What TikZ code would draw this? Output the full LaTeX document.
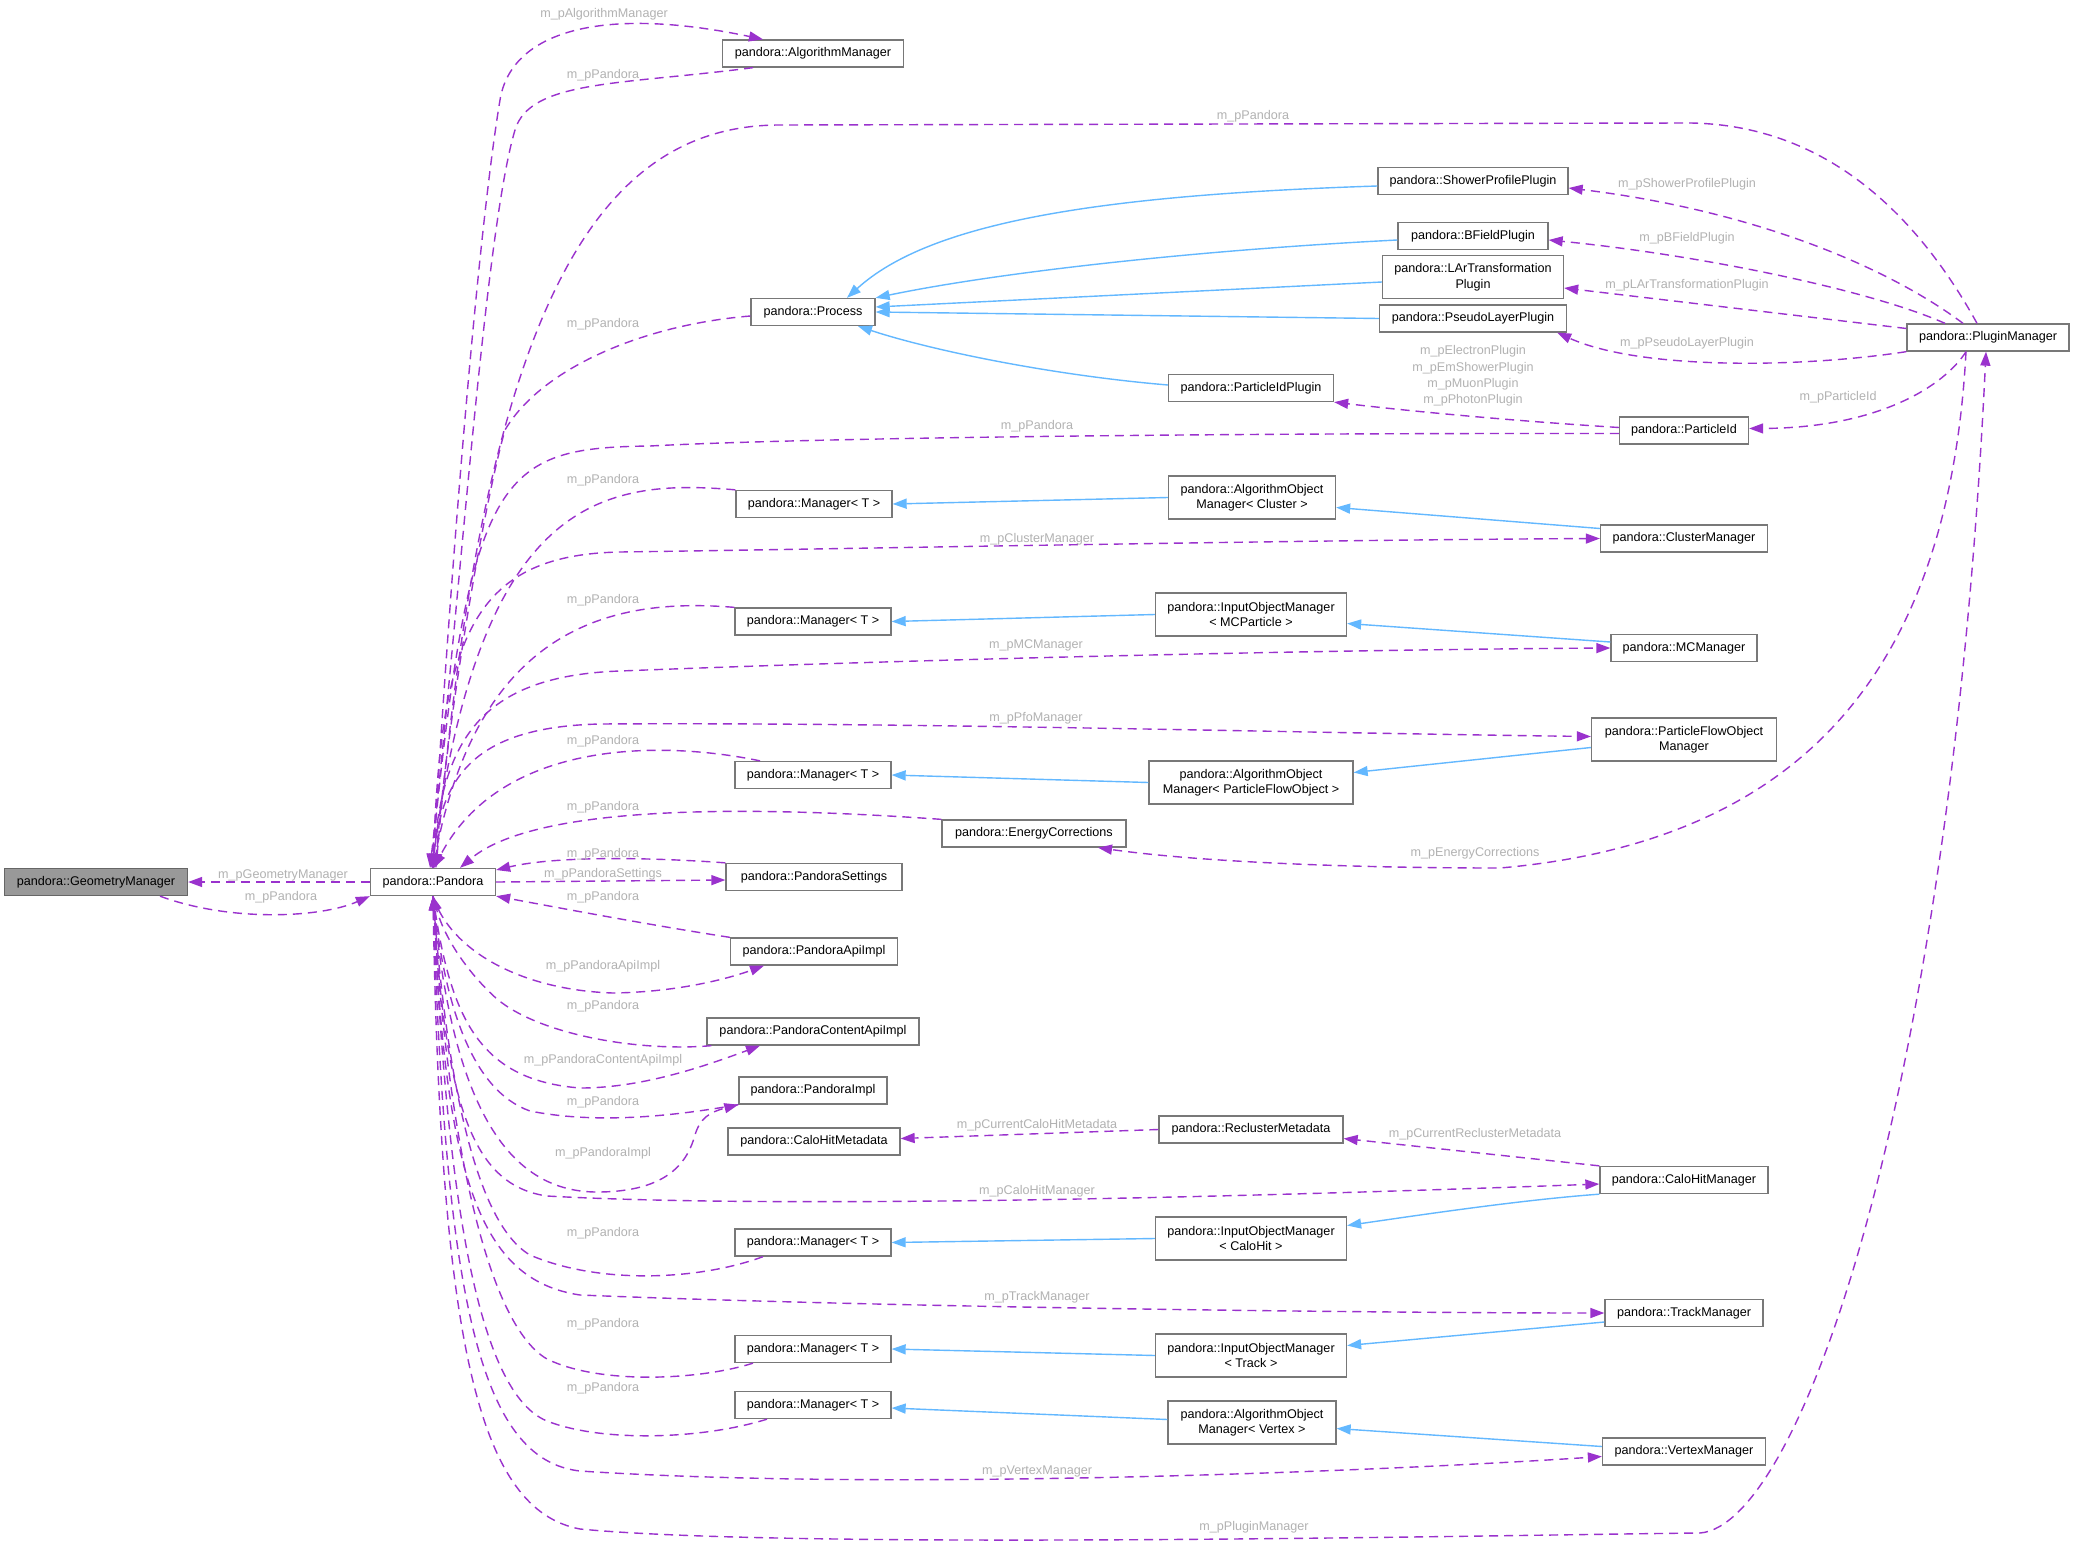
\documentclass[tikz,border=0pt]{standalone}
\usepackage{fontspec}
\setmainfont{Liberation Sans}
\usetikzlibrary{positioning,arrows.meta}

\definecolor{depcol}{RGB}{154,50,205}
\definecolor{inhcol}{RGB}{99,184,255}
\definecolor{boxcol}{RGB}{120,120,120}
\definecolor{lblcol}{RGB}{178,178,178}
\definecolor{focuscol}{RGB}{153,153,153}
\definecolor{focusedge}{RGB}{102,102,102}
\newcommand{\dgfont}{\fontsize{12.6}{15.5}\selectfont}

\tikzset{
  cls/.style={rectangle,draw=boxcol,fill=white,line width=1.3pt,font=\dgfont,
    align=center,minimum height=27pt,inner xsep=3pt,inner ysep=2pt},
  focus/.style={cls,fill=focuscol,draw=focusedge},
  dep/.style={draw=depcol,line width=1.4pt,dash pattern=on 9pt off 6pt,
    -{Triangle[length=14pt,width=10pt]}},
  inh/.style={draw=inhcol,line width=1.4pt,-{Triangle[length=14pt,width=10pt]}},
  lbl/.style={font=\dgfont,text=lblcol,inner sep=0pt,align=center}
}

\begin{document}
\begin{tikzpicture}[x=1pt,y=-1pt]
  \useasboundingbox[fill=white] (0,0) rectangle (2074,1549);

  % classes
  \node[focus,minimum width=183] (geom) at (96,882) {pandora::GeometryManager};
  \node[cls,minimum width=125] (pandora) at (433,882) {pandora::Pandora};
  \node[cls,minimum width=181] (algmgr) at (813,53.5) {pandora::AlgorithmManager};
  \node[cls,minimum width=124] (process) at (813,312) {pandora::Process};
  \node[cls,minimum width=190] (showerpp) at (1473,181) {pandora::ShowerProfilePlugin};
  \node[cls,minimum width=150] (bfieldp) at (1473,236) {pandora::BFieldPlugin};
  \node[cls,minimum width=181,minimum height=43] (lartp) at (1473,277) {pandora::LArTransformation\\Plugin};
  \node[cls,minimum width=187] (pseudolp) at (1473,318.5) {pandora::PseudoLayerPlugin};
  \node[cls,minimum width=162] (pluginmgr) at (1988,337.5) {pandora::PluginManager};
  \node[cls,minimum width=129] (partid) at (1684,430.5) {pandora::ParticleId};
  \node[cls,minimum width=165] (partidp) at (1251,388) {pandora::ParticleIdPlugin};
  \node[cls,minimum width=156] (mgrclus) at (814,504) {pandora::Manager< T >};
  \node[cls,minimum width=167,minimum height=43] (aomclus) at (1252,497.5) {pandora::AlgorithmObject\\Manager< Cluster >};
  \node[cls,minimum width=167] (clusmgr) at (1684,538.5) {pandora::ClusterManager};
  \node[cls,minimum width=156] (mgrmc) at (813,621.5) {pandora::Manager< T >};
  \node[cls,minimum width=191,minimum height=43] (iommc) at (1251,614.5) {pandora::InputObjectManager\\< MCParticle >};
  \node[cls,minimum width=146] (mcmgr) at (1684,648) {pandora::MCManager};
  \node[cls,minimum width=185,minimum height=43] (pfomgr) at (1684,739.5) {pandora::ParticleFlowObject\\Manager};
  \node[cls,minimum width=156] (mgrpfo) at (813,775) {pandora::Manager< T >};
  \node[cls,minimum width=204,minimum height=43] (aompfo) at (1251,782.5) {pandora::AlgorithmObject\\Manager< ParticleFlowObject >};
  \node[cls,minimum width=184] (energycorr) at (1034,833.5) {pandora::EnergyCorrections};
  \node[cls,minimum width=176] (settings) at (814,877) {pandora::PandoraSettings};
  \node[cls,minimum width=167] (apiimpl) at (814,951.5) {pandora::PandoraApiImpl};
  \node[cls,minimum width=212] (contentapi) at (813,1031.5) {pandora::PandoraContentApiImpl};
  \node[cls,minimum width=148] (pimpl) at (813,1090.5) {pandora::PandoraImpl};
  \node[cls,minimum width=172] (calometa) at (814,1141.5) {pandora::CaloHitMetadata};
  \node[cls,minimum width=184] (reclusmeta) at (1251,1129.5) {pandora::ReclusterMetadata};
  \node[cls,minimum width=168] (calomgr) at (1684,1180) {pandora::CaloHitManager};
  \node[cls,minimum width=191,minimum height=43] (iomcalo) at (1251,1238.5) {pandora::InputObjectManager\\< CaloHit >};
  \node[cls,minimum width=156] (mgrcalo) at (813,1242.5) {pandora::Manager< T >};
  \node[cls,minimum width=158] (trackmgr) at (1684,1313) {pandora::TrackManager};
  \node[cls,minimum width=191,minimum height=43] (iomtrack) at (1251,1355.5) {pandora::InputObjectManager\\< Track >};
  \node[cls,minimum width=156] (mgrtrack) at (813,1349) {pandora::Manager< T >};
  \node[cls,minimum width=156] (mgrvtx) at (813,1405) {pandora::Manager< T >};
  \node[cls,minimum width=168,minimum height=43] (aomvtx) at (1252,1422.5) {pandora::AlgorithmObject\\Manager< Vertex >};
  \node[cls,minimum width=163] (vtxmgr) at (1684,1451.5) {pandora::VertexManager};

  % inheritance
  \draw[inh] ([yshift=-5pt]showerpp.west) .. controls (1100,195) and (930,222) .. ([xshift=34pt]process.north);
  \draw[inh] ([yshift=-4pt]bfieldp.west) .. controls (1200,250) and (1000,272) .. (process.north east);
  \draw[inh] ([yshift=-5pt]lartp.west) -- ([yshift=5pt]process.east);
  \draw[inh] (pseudolp.west) -- (process.east);
  \draw[inh] ([yshift=3pt]partidp.west) .. controls (1050,375) and (930,350) .. ([xshift=45pt]process.south);
  \draw[inh] (aomclus.west) -- (mgrclus.east);
  \draw[inh] ([yshift=10pt]clusmgr.west) -- ([yshift=-10pt]aomclus.east);
  \draw[inh] (iommc.west) -- (mgrmc.east);
  \draw[inh] ([yshift=6pt]mcmgr.west) -- ([yshift=-9pt]iommc.east);
  \draw[inh] (aompfo.west) -- (mgrpfo.east);
  \draw[inh] ([yshift=-8pt]pfomgr.west) -- ([yshift=10pt]aompfo.east);
  \draw[inh] (iomcalo.west) -- (mgrcalo.east);
  \draw[inh] (calomgr.south west) .. controls (1520,1200) and (1420,1215) .. ([yshift=13pt]iomcalo.east);
  \draw[inh] (iomtrack.west) -- (mgrtrack.east);
  \draw[inh] ([yshift=-9pt]trackmgr.west) -- ([yshift=10pt]iomtrack.east);
  \draw[inh] ([yshift=3pt]aomvtx.west) -- ([yshift=-3pt]mgrvtx.east);
  \draw[inh] ([yshift=5pt]vtxmgr.west) -- ([yshift=-6pt]aomvtx.east);

  % usage
  \draw[dep] (pandora.west) -- (geom.east) node[lbl] at (283,875) {m\_pGeometryManager};
  \draw[dep] ([xshift=64pt]geom.south) .. controls (230,922) and (320,918) .. (pandora.south west) node[lbl] at (281,897) {m\_pPandora};
  \draw[dep] (pandora.north) .. controls (445,650) and (475,250) .. (500,100) .. controls (511,32) and (600,5) .. ([xshift=-50pt]algmgr.north) node[lbl] at (604,14) {m\_pAlgorithmManager};
  \draw[dep] ([xshift=-60pt]algmgr.south) .. controls (620,85) and (530,80) .. (515,130) .. controls (485,230) and (460,600) .. ([xshift=-3pt]pandora.north) node[lbl] at (603,75) {m\_pPandora};
  \draw[dep] ([xshift=-11pt]pluginmgr.north) .. controls (1920,220) and (1830,125) .. (1690,123) -- (780,125) .. controls (600,125) and (485,300) .. ([xshift=3pt]pandora.north) node[lbl] at (1253,116) {m\_pPandora};
  \draw[dep] ([yshift=-4pt]process.west) .. controls (640,325) and (540,370) .. (505,430) .. controls (485,500) and (450,700) .. ([xshift=2pt]pandora.north) node[lbl] at (603,324) {m\_pPandora};
  \draw[dep] ([yshift=-3pt]partid.west) .. controls (1200,433) and (800,438) .. (650,446) .. controls (500,448) and (470,470) .. ([xshift=-2pt]pandora.north) node[lbl] at (1037,426) {m\_pPandora};
  \draw[dep] (mgrclus.north west) .. controls (600,478) and (480,500) .. ([xshift=-1pt]pandora.north) node[lbl] at (603,480) {m\_pPandora};
  \draw[dep] (pandora.north) .. controls (440,640) and (470,555) .. (620,552) .. controls (900,548) and (1300,540) .. (clusmgr.west) node[lbl] at (1037,539) {m\_pClusterManager};
  \draw[dep] (mgrmc.north west) .. controls (620,598) and (480,620) .. (pandora.north) node[lbl] at (603,600) {m\_pPandora};
  \draw[dep] (pandora.north) .. controls (440,740) and (480,676) .. (620,671) .. controls (900,660) and (1300,650) .. (mcmgr.west) node[lbl] at (1036,645) {m\_pMCManager};
  \draw[dep] (pandora.north) .. controls (438,780) and (470,727) .. (600,724) .. controls (900,722) and (1300,733) .. ([yshift=3pt]pfomgr.west) node[lbl] at (1036,718) {m\_pPfoManager};
  \draw[dep] ([xshift=-53pt]mgrpfo.north) .. controls (660,740) and (500,740) .. ([xshift=1pt]pandora.north) node[lbl] at (603,741) {m\_pPandora};
  \draw[dep] (energycorr.north west) .. controls (780,808) and (540,800) .. ([xshift=27pt]pandora.north) node[lbl] at (603,807) {m\_pPandora};
  \draw[dep] ([xshift=-22pt]pluginmgr.south) .. controls (1950,650) and (1820,840) .. (1500,868) .. controls (1350,868) and (1200,862) .. ([xshift=64pt]energycorr.south) node[lbl] at (1475,853) {m\_pEnergyCorrections};
  \draw[dep] (settings.north west) .. controls (660,858) and (560,855) .. ([yshift=12pt]pandora.east) node[lbl] at (603,854) {m\_pPandora};
  \draw[dep] (pandora.east) -- ([yshift=-3pt]settings.west) node[lbl] at (603,874) {m\_pPandoraSettings};
  \draw[dep] (apiimpl.north west) .. controls (650,925) and (560,908) .. (pandora.south east) node[lbl] at (603,897) {m\_pPandora};
  \draw[dep] (pandora.south) .. controls (450,950) and (520,990) .. (613,993) .. controls (680,992) and (730,978) .. ([xshift=-50pt]apiimpl.south) node[lbl] at (603,966) {m\_pPandoraApiImpl};
  \draw[dep] ([xshift=5pt]contentapi.south west) .. controls (640,1052) and (540,1035) .. (497,999) .. controls (470,975) and (445,940) .. (pandora.south) node[lbl] at (603,1006) {m\_pPandora};
  \draw[dep] (pandora.south) .. controls (450,1020) and (480,1080) .. (580,1088) .. controls (640,1088) and (700,1068) .. ([xshift=-53pt]contentapi.south) node[lbl] at (603,1060) {m\_pPandoraContentApiImpl};
  \draw[dep] (pimpl.south west) .. controls (680,1115) and (600,1125) .. (530,1111) .. controls (470,1090) and (445,1000) .. (pandora.south) node[lbl] at (603,1102) {m\_pPandora};
  \draw[dep] (pandora.south) .. controls (450,1090) and (500,1192) .. (597,1192) .. controls (670,1192) and (688,1160) .. (695,1135) .. controls (700,1118) and (710,1112) .. (pimpl.south west) node[lbl] at (603,1153) {m\_pPandoraImpl};
  \draw[dep] (reclusmeta.west) -- ([yshift=3pt]calometa.east) node[lbl] at (1037,1125) {m\_pCurrentCaloHitMetadata};
  \draw[dep] (calomgr.north west) -- ([yshift=-9pt]reclusmeta.east) node[lbl] at (1475,1134) {m\_pCurrentReclusterMetadata};
  \draw[dep] (pandora.south) .. controls (445,1100) and (470,1185) .. (547,1196) .. controls (800,1210) and (1300,1195) .. ([yshift=-4pt]calomgr.west) node[lbl] at (1037,1191) {m\_pCaloHitManager};
  \draw[dep] ([xshift=-50pt]mgrcalo.south) .. controls (700,1280) and (600,1285) .. (530,1255) .. controls (470,1220) and (445,1050) .. (pandora.south) node[lbl] at (603,1233) {m\_pPandora};
  \draw[dep] (pandora.south) .. controls (445,1180) and (480,1280) .. (580,1295) .. controls (900,1308) and (1400,1313) .. (trackmgr.west) node[lbl] at (1037,1297) {m\_pTrackManager};
  \draw[dep] ([xshift=-60pt]mgrtrack.south) .. controls (700,1380) and (600,1385) .. (547,1359) .. controls (480,1320) and (445,1100) .. (pandora.south) node[lbl] at (603,1324) {m\_pPandora};
  \draw[dep] ([xshift=-46pt]mgrvtx.south) .. controls (700,1440) and (600,1442) .. (547,1421) .. controls (470,1390) and (445,1150) .. (pandora.south) node[lbl] at (603,1388) {m\_pPandora};
  \draw[dep] (pandora.south) .. controls (445,1300) and (480,1460) .. (580,1471) .. controls (900,1492) and (1400,1470) .. ([yshift=-5pt]vtxmgr.west) node[lbl] at (1037,1471) {m\_pVertexManager};
  \draw[dep] (pandora.south) .. controls (440,1350) and (480,1510) .. (580,1529) .. controls (800,1550) and (1500,1535) .. (1700,1533) .. controls (1800,1525) and (1950,1100) .. ([xshift=-2pt]pluginmgr.south) node[lbl] at (1254,1527) {m\_pPluginManager};
  \draw[dep] ([xshift=-25pt]pluginmgr.north) .. controls (1885,265) and (1750,210) .. ([yshift=-7pt]showerpp.east) node[lbl] at (1687,184) {m\_pShowerProfilePlugin};
  \draw[dep] ([xshift=-43pt]pluginmgr.north) .. controls (1870,290) and (1700,255) .. ([yshift=-4pt]bfieldp.east) node[lbl] at (1687,238) {m\_pBFieldPlugin};
  \draw[dep] ([yshift=9pt]pluginmgr.west) -- ([yshift=-11pt]lartp.east) node[lbl] at (1687,285) {m\_pLArTransformationPlugin};
  \draw[dep] (pluginmgr.south west) .. controls (1800,368) and (1640,370) .. ([xshift=-10pt]pseudolp.south east) node[lbl] at (1687,343) {m\_pPseudoLayerPlugin};
  \draw[dep] ([xshift=-22pt]pluginmgr.south) .. controls (1945,385) and (1880,428) .. ([yshift=2pt]partid.east) node[lbl] at (1838,397) {m\_pParticleId};
  \draw[dep] ([yshift=3pt]partid.west) .. controls (1500,420) and (1400,410) .. (partidp.south east) node[lbl,font={\fontsize{12.6}{16.3}\selectfont}] at (1473,376) {m\_pElectronPlugin\\m\_pEmShowerPlugin\\m\_pMuonPlugin\\m\_pPhotonPlugin};
\end{tikzpicture}
\end{document}
